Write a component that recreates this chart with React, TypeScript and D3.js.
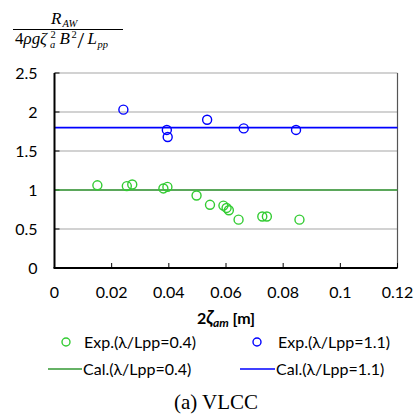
import React from "react";
import * as d3 from "d3";

// wave height and nondimensional added resistance
const expShortX = [0.015, 0.0253, 0.0272, 0.0381, 0.0395, 0.0497, 0.0544, 0.0591, 0.0602, 0.0610, 0.0644, 0.0727, 0.0743, 0.0857];
const expShortY = [1.06, 1.05, 1.07, 1.02, 1.04, 0.93, 0.81, 0.80, 0.77, 0.74, 0.62, 0.66, 0.66, 0.62];
const expLongX = [0.0241, 0.0393, 0.0396, 0.0534, 0.0662, 0.0845];
const expLongY = [2.03, 1.77, 1.68, 1.90, 1.79, 1.77];
const calShort = 1.0;
const calLong = 1.8;

const xTicks = [0, 0.02, 0.04, 0.06, 0.08, 0.1, 0.12];
const yTicks = [0, 0.5, 1, 1.5, 2, 2.5];

const green = "#33cc33";
const greenLine = "#339933";
const blue = "#0000ff";
const sans = "Lato, 'Open Sans', sans-serif";
const serif = "'Liberation Serif', 'Times New Roman', serif";

export default function App() {
    const margin = { top: 73, left: 54.5, right: 18.5, bottom: 152 };
    const W = 416, H = 420;
    const width = W - margin.left - margin.right;
    const height = H - margin.top - margin.bottom;

    const xScale = d3.scaleLinear().domain([0, 0.12]).range([0, width]);
    const yScale = d3.scaleLinear().domain([0, 2.5]).range([height, 0]);

    const shortPts = expShortX.map((x, i) => ({ x, y: expShortY[i] }));
    const longPts = expLongX.map((x, i) => ({ x, y: expLongY[i] }));

    return (
        <svg width={W} height={H} style={{ position: "absolute", left: 0, top: 0, background: "#fff" }}>
            {/* y label as a fraction */}
            <g fontFamily={serif} fill="#000">
                <text x={51} y={23.5} fontSize={17} fontStyle="italic">R</text>
                <text x={62.5} y={26.5} fontSize={10.5} fontStyle="italic">AW</text>
                <line x1={13} x2={123} y1={29.5} y2={29.5} stroke="#000" strokeWidth={1} />
                <text x={15} y={44} fontSize={17}>4</text>
                <text x={23.5} y={44} fontSize={17} fontStyle="italic">ρg</text>
                <text x={40} y={44} fontSize={17} fontStyle="italic">ζ</text>
                <text x={50.5} y={38} fontSize={10.5}>2</text>
                <text x={50} y={48} fontSize={10.5} fontStyle="italic">a</text>
                <text x={59.5} y={44} fontSize={17} fontStyle="italic">B</text>
                <text x={71.5} y={37.5} fontSize={10.5}>2</text>
                <text x={77.5} y={48} fontSize={24}>/</text>
                <text x={87.5} y={44} fontSize={17} fontStyle="italic">L</text>
                <text x={97.5} y={47.5} fontSize={10.5} fontStyle="italic">pp</text>
            </g>

            <g transform={`translate(${margin.left}, ${margin.top})`}>
                {/* gridlines */}
                {yTicks.filter((t) => t > 0).map((t) => (
                    <line key={t} x1={0} x2={width} y1={yScale(t)} y2={yScale(t)} stroke="#a6a6a6" strokeWidth={1.2} />
                ))}
                {/* right frame */}
                <line x1={width} x2={width} y1={0} y2={height} stroke="#555" strokeWidth={1.2} />

                {/* y ticks and labels */}
                {yTicks.map((t) => (
                    <g key={t}>
                        <line x1={0} x2={5} y1={yScale(t)} y2={yScale(t)} stroke="#000" strokeWidth={1} />
                        <text x={-17} y={yScale(t)} dy="0.35em" textAnchor="end" fontFamily={sans} fontSize={16} fill="#000">
                            {t}
                        </text>
                    </g>
                ))}
                {/* x ticks and labels */}
                {xTicks.map((t) => (
                    <g key={t}>
                        <line x1={xScale(t)} x2={xScale(t)} y1={height} y2={height - 5} stroke="#000" strokeWidth={1} />
                        <text x={xScale(t)} y={height + 30} textAnchor="middle" fontFamily={sans} fontSize={16} fill="#000">
                            {t}
                        </text>
                    </g>
                ))}

                {/* calculated lines */}
                <line x1={0} x2={width} y1={yScale(calShort)} y2={yScale(calShort)} stroke={greenLine} strokeWidth={1.6} />
                <line x1={0} x2={width} y1={yScale(calLong)} y2={yScale(calLong)} stroke={blue} strokeWidth={1.6} />

                {/* experiments */}
                {shortPts.map((d, i) => (
                    <circle key={"s" + i} cx={xScale(d.x)} cy={yScale(d.y)} r={4.5} fill="none" stroke={green} strokeWidth={1.4} />
                ))}
                {longPts.map((d, i) => (
                    <circle key={"l" + i} cx={xScale(d.x)} cy={yScale(d.y)} r={4.5} fill="none" stroke={blue} strokeWidth={1.4} />
                ))}

                {/* axes */}
                <line x1={0} x2={0} y1={0} y2={height} stroke="#000" strokeWidth={2} />
                <line x1={-1} x2={width} y1={height} y2={height} stroke="#000" strokeWidth={2} />
            </g>

            {/* x axis title */}
            <text x={226} y={324} textAnchor="middle" fontFamily={sans} fontSize={16} fontWeight="bold" fill="#000">
                2<tspan fontStyle="italic" fontSize={18}>ζ</tspan>
                <tspan fontStyle="italic" fontSize={12} dy={3}>am</tspan>
                <tspan dy={-3}> [m]</tspan>
            </text>

            {/* legend */}
            <g fontFamily={sans} fontSize={16} fill="#000">
                <circle cx={66} cy={342} r={4} fill="none" stroke={green} strokeWidth={1.4} />
                <text x={84} y={347.5}>Exp.(λ/Lpp=0.4)</text>
                <circle cx={257} cy={342} r={4} fill="none" stroke={blue} strokeWidth={1.4} />
                <text x={278} y={347.5}>Exp.(λ/Lpp=1.1)</text>
                <line x1={48} x2={82} y1={369} y2={369} stroke={greenLine} strokeWidth={1.6} />
                <text x={83} y={374.5}>Cal.(λ/Lpp=0.4)</text>
                <line x1={240} x2={275} y1={369} y2={369} stroke={blue} strokeWidth={1.6} />
                <text x={276} y={374.5}>Cal.(λ/Lpp=1.1)</text>
            </g>

            <text x={216} y={409} textAnchor="middle" fontFamily={serif} fontSize={21} fill="#000">(a) VLCC</text>
        </svg>
    );
}
